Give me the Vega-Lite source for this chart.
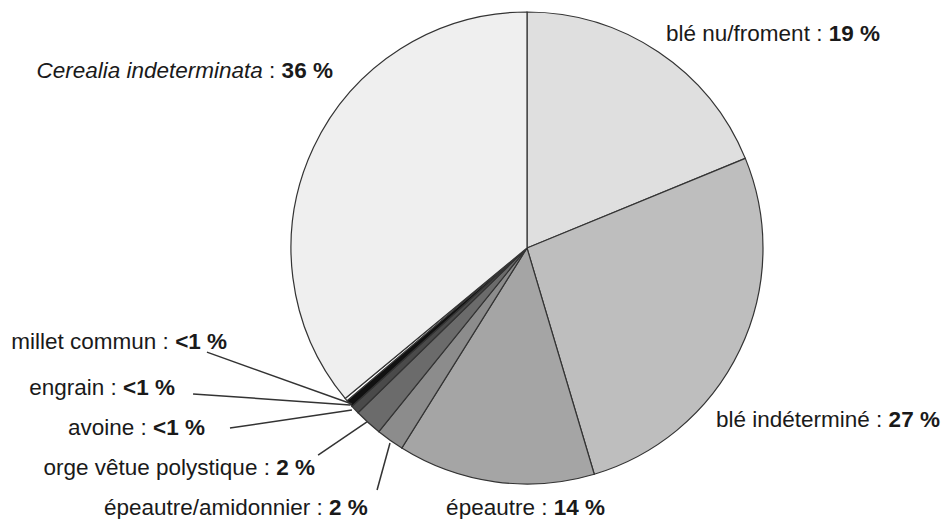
{
  "$schema": "https://vega.github.io/schema/vega-lite/v6.json",
  "width": 470,
  "height": 470,
  "autosize": {"type": "none"},
  "padding": {"left": 292, "top": 13, "right": 180, "bottom": 36},
  "background": "white",
  "config": {
    "view": {"stroke": null},
    "text": {"font": "Liberation Sans", "fontSize": 22.5, "fill": "#1a1a1a"}
  },
  "datasets": {
    "slices": [
      {"taxon": "blé nu/froment", "share": 18.8, "ord": 1},
      {"taxon": "blé indéterminé", "share": 26.6, "ord": 2},
      {"taxon": "épeautre", "share": 13.5, "ord": 3},
      {"taxon": "épeautre/amidonnier", "share": 1.9, "ord": 4},
      {"taxon": "orge vêtue polystique", "share": 1.9, "ord": 5},
      {"taxon": "avoine", "share": 0.6, "ord": 6},
      {"taxon": "engrain", "share": 0.5, "ord": 7},
      {"taxon": "millet commun", "share": 0.2, "ord": 8},
      {"taxon": "Cerealia indeterminata", "share": 36.0, "ord": 9}
    ],
    "labels": [
      {"taxon": "blé nu/froment", "pct": "19 %", "lx": 1.257, "ly": 0.881},
      {"taxon": "Cerealia indeterminata", "pct": "36 %", "lx": -1.071, "ly": 0.723},
      {"taxon": "blé indéterminé", "pct": "27 %", "lx": 1.512, "ly": -0.762},
      {"taxon": "millet commun", "pct": "<1 %", "lx": -1.524, "ly": -0.43, "x1": -1.362, "y1": -0.443, "x2": -0.745, "y2": -0.664},
      {"taxon": "engrain", "pct": "<1 %", "lx": -1.746, "ly": -0.626, "x1": -1.421, "y1": -0.621, "x2": -0.753, "y2": -0.668},
      {"taxon": "avoine", "pct": "<1 %", "lx": -1.618, "ly": -0.796, "x1": -1.264, "y1": -0.766, "x2": -0.745, "y2": -0.689},
      {"taxon": "orge vêtue polystique", "pct": "2 %", "lx": -1.094, "ly": -0.966, "x1": -0.889, "y1": -0.881, "x2": -0.681, "y2": -0.74},
      {"taxon": "épeautre/amidonnier", "pct": "2 %", "lx": -0.869, "ly": -1.136, "x1": -0.638, "y1": -1.03, "x2": -0.583, "y2": -0.83},
      {"taxon": "épeautre", "pct": "14 %", "lx": 0.087, "ly": -1.136}
    ]
  },
  "layer": [
    {
      "data": {"name": "slices"},
      "mark": {"type": "arc", "outerRadius": 236, "stroke": "#333333", "strokeWidth": 1.2},
      "encoding": {
        "theta": {"field": "share", "type": "quantitative", "stack": true},
        "order": {"field": "ord", "type": "quantitative"},
        "color": {
          "field": "taxon",
          "type": "nominal",
          "legend": null,
          "scale": {
            "domain": ["blé nu/froment", "blé indéterminé", "épeautre", "épeautre/amidonnier", "orge vêtue polystique", "avoine", "engrain", "millet commun", "Cerealia indeterminata"],
            "range": ["#dfdfdf", "#bebebe", "#a5a5a5", "#8c8c8c", "#6b6b6b", "#4a4a4a", "#111111", "#ffffff", "#efefef"]
          }
        }
      }
    },
    {
      "data": {"name": "labels"},
      "transform": [{"filter": "isValid(datum.x1)"}],
      "mark": {"type": "rule", "stroke": "#333333", "strokeWidth": 1.5},
      "encoding": {
        "x": {"field": "x1", "type": "quantitative", "scale": {"domain": [-1, 1], "nice": false, "zero": false}, "axis": null},
        "y": {"field": "y1", "type": "quantitative", "scale": {"domain": [-1, 1], "nice": false, "zero": false}, "axis": null},
        "x2": {"field": "x2"},
        "y2": {"field": "y2"}
      }
    },
    {
      "data": {"name": "labels"},
      "transform": [{"calculate": "datum.taxon === 'Cerealia indeterminata' ? ':' : datum.taxon + ' :'", "as": "lab"}],
      "mark": {"type": "text", "align": "right", "baseline": "alphabetic"},
      "encoding": {
        "x": {"field": "lx", "type": "quantitative", "scale": {"domain": [-1, 1], "nice": false, "zero": false}, "axis": null},
        "y": {"field": "ly", "type": "quantitative", "scale": {"domain": [-1, 1], "nice": false, "zero": false}, "axis": null},
        "text": {"field": "lab"}
      }
    },
    {
      "data": {"name": "labels"},
      "transform": [{"filter": "datum.taxon === 'Cerealia indeterminata'"}],
      "mark": {"type": "text", "align": "right", "baseline": "alphabetic", "fontStyle": "italic", "dx": -12.5},
      "encoding": {
        "x": {"field": "lx", "type": "quantitative", "scale": {"domain": [-1, 1], "nice": false, "zero": false}, "axis": null},
        "y": {"field": "ly", "type": "quantitative", "scale": {"domain": [-1, 1], "nice": false, "zero": false}, "axis": null},
        "text": {"field": "taxon"}
      }
    },
    {
      "data": {"name": "labels"},
      "mark": {"type": "text", "align": "left", "baseline": "alphabetic", "dx": 6.3, "fontWeight": "bold"},
      "encoding": {
        "x": {"field": "lx", "type": "quantitative", "scale": {"domain": [-1, 1], "nice": false, "zero": false}, "axis": null},
        "y": {"field": "ly", "type": "quantitative", "scale": {"domain": [-1, 1], "nice": false, "zero": false}, "axis": null},
        "text": {"field": "pct"}
      }
    }
  ]
}
